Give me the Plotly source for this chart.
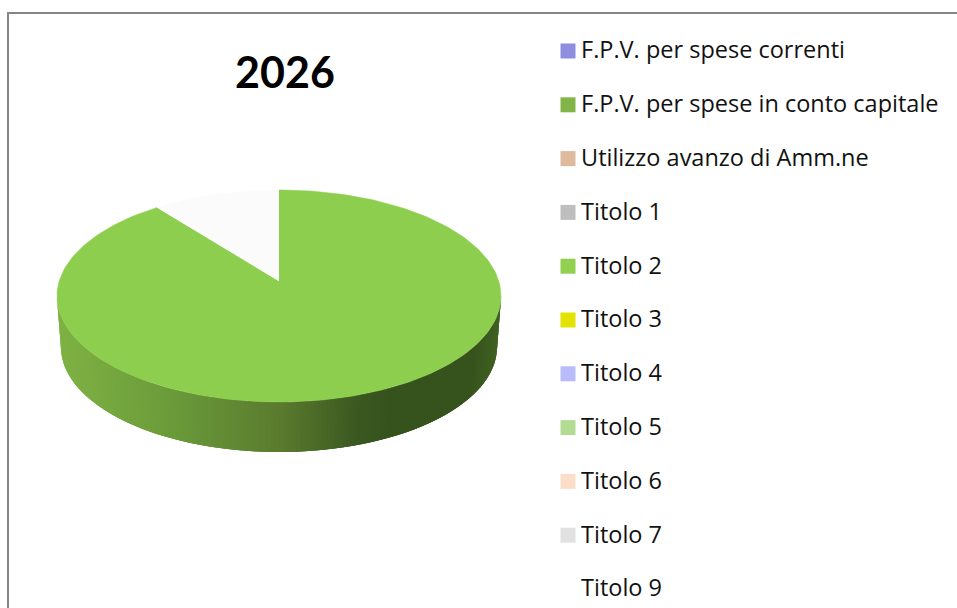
import numpy as np
import plotly.graph_objects as go

# Data
labels = ["F.P.V. per spese correnti", "F.P.V. per spese in conto capitale",
          "Utilizzo avanzo di Amm.ne", "Titolo 1", "Titolo 2", "Titolo 3",
          "Titolo 4", "Titolo 5", "Titolo 6", "Titolo 7", "Titolo 9"]
values = [0, 0, 0, 0, 90.75, 0, 0, 0, 0, 0, 9.25]
slice_colors = ["#8E8EE0", "#82B548", "#DEBB9F", "#BEBEBE", "#8ECE4F", "#E3E300",
                "#B9BCFB", "#B3DB93", "#FCDDC8", "#E1E1E1", "#FBFBFB"]
legend_colors = ["#8E8EE0", "#82B548", "#DEBB9F", "#BEBEBE", "#92D050", "#E3E300",
                 "#B9BCFB", "#B3DB93", "#FCDDC8", "#E1E1E1", "#FFFFFF"]
title = "2026"

# Projection of the pie on the page
CX, CY, A, B = 279, 296, 222, 106
APEX_Y = 281
BX, BY, BA, BB = 279, 347, 218, 105
WALL_STOPS = [(61, (127, 178, 68)), (170, (106, 155, 58)), (279, (90, 122, 46)),
              (355, (58, 88, 32)), (385, (55, 83, 29)), (470, (55, 83, 29)), (497, (64, 98, 34))]


def wall_color(x):
    xs = [s[0] for s in WALL_STOPS]
    rgb = [np.interp(x, xs, [s[1][k] for s in WALL_STOPS]) for k in range(3)]
    return "rgb(%d,%d,%d)" % tuple(int(round(c)) for c in rgb)


fig = go.Figure()

# Side wall, front half of the rim: overlapping shaded strips, painted left to right
edges = np.linspace(3 * np.pi / 2, np.pi / 2, 161)
for i, t0 in enumerate(edges[:-1]):
    t1 = edges[min(i + 3, len(edges) - 1)]
    xs = [CX + A * np.sin(t0), CX + A * np.sin(t1), BX + BA * np.sin(t1), BX + BA * np.sin(t0)]
    ys = [CY - B * np.cos(t0), CY - B * np.cos(t1), BY - BB * np.cos(t1), BY - BB * np.cos(t0)]
    c = wall_color(BX + BA * np.sin(t0))
    fig.add_trace(go.Scatter(x=xs, y=ys, fill="toself", mode="lines", fillcolor=c,
                             line=dict(color=c, width=0), hoverinfo="skip", showlegend=False))

# Top face: slices clockwise from twelve o'clock
total = sum(values)
start = 0.0
for label, value, color in zip(labels, values, slice_colors):
    if value == 0:
        continue
    sweep = 2 * np.pi * value / total
    th = np.linspace(start, start + sweep, 240)
    xs = np.concatenate([[CX], CX + A * np.sin(th)])
    ys = np.concatenate([[APEX_Y], CY - B * np.cos(th)])
    fig.add_trace(go.Scatter(x=xs, y=ys, fill="toself", mode="lines", fillcolor=color,
                             line=dict(color=color, width=0.5), name=label,
                             hoverinfo="name", showlegend=False))
    start += sweep

# Legend column
rows = [52.5 + i * 53.8 for i in range(len(labels))]
fig.add_trace(go.Scatter(
    x=[568] * len(labels), y=[r - 1.5 for r in rows], mode="markers",
    marker=dict(symbol="square", size=15, color=legend_colors),
    hoverinfo="skip", showlegend=False))
fig.add_trace(go.Scatter(
    x=[581] * len(labels), y=rows, mode="text", text=labels, textposition="middle right",
    textfont=dict(family="Open Sans", size=23.5, color="#111111"),
    hoverinfo="text", showlegend=False))

fig.update_layout(
    width=957, height=608, margin=dict(l=0, r=0, t=0, b=0),
    paper_bgcolor="white", plot_bgcolor="white", showlegend=False,
    title=dict(text="<b>%s</b>" % title, x=285 / 957, y=1 - 73 / 608,
               xanchor="center", yanchor="middle",
               font=dict(family="Lato", size=43, color="black")),
    xaxis=dict(range=[0, 957], visible=False, fixedrange=True),
    yaxis=dict(range=[608, 0], visible=False, fixedrange=True),
    shapes=[dict(type="line", xref="x", yref="y", x0=8, x1=957, y0=13, y1=13,
                 line=dict(color="#868686", width=2)),
            dict(type="line", xref="x", yref="y", x0=8, x1=8, y0=12, y1=608,
                 line=dict(color="#868686", width=2))],
)

fig.write_html("out.html", config={"displayModeBar": False},
               post_script="document.body.style.margin='0';document.body.style.overflow='hidden';")
